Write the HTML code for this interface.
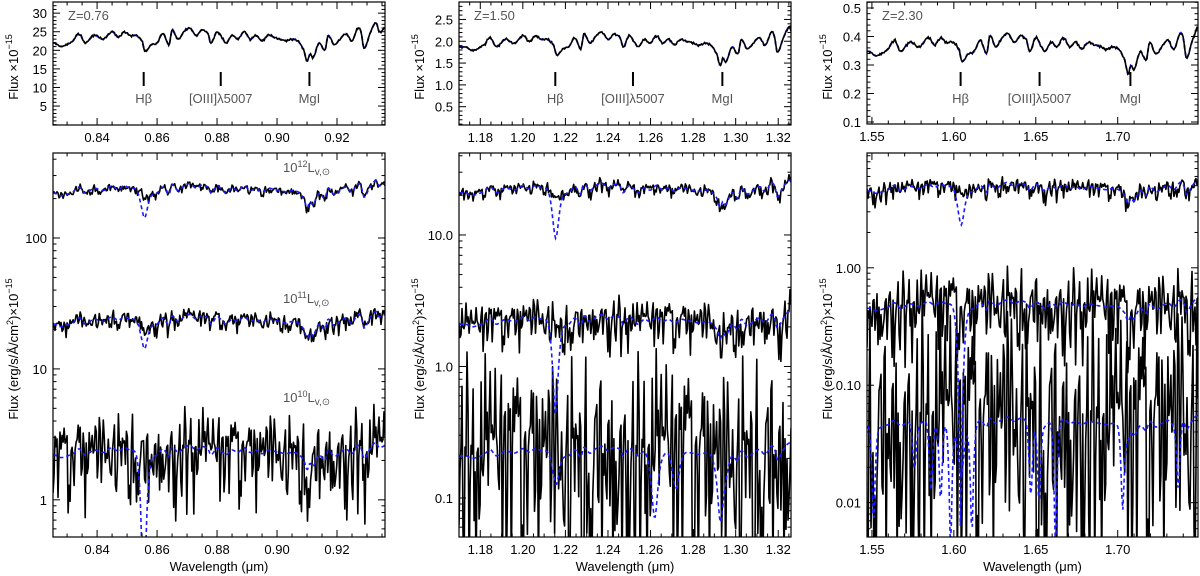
<!DOCTYPE html>
<html><head><meta charset="utf-8"><style>
html,body{margin:0;padding:0;background:#fff;}
svg{display:block;font-family:"Liberation Sans",sans-serif;}
</style></head><body>
<svg id="fig" width="1200" height="576" viewBox="0 0 1200 576"></svg>
<script>
// ---- data ----
const templateWave = [0.826,0.828,0.832,0.834,0.836,0.839,0.842,0.845,0.847,0.849,0.851,0.853,0.855,0.856,0.858,0.860,0.862,0.864,0.865,0.867,0.869,0.871,0.873,0.875,0.877,0.878,0.880,0.882,0.883,0.885,0.887,0.889,0.891,0.893,0.895,0.897,0.899,0.901,0.903,0.905,0.907,0.909,0.910,0.911,0.912,0.914,0.916,0.917,0.919,0.921,0.923,0.925,0.927,0.928,0.929,0.931,0.933,0.934,0.936];
const templateFlux = [22,21,22.5,24.5,22,24,23,25,23.5,25,24,24,22.5,19.8,21.5,22,24.5,21.5,25.5,23,25,26,24,25.5,24.5,22,25,23,22,24,23,25,23,24,22.5,24,23.5,23,22.5,23,22.5,20,17,19,18,22,20,24,21.5,23,24.5,22.5,26,25,20.5,24.5,27.5,25,26];
const templateRedshift = 0.76;
const panelRedshift = [0.76, 1.50, 2.30];
const panelFluxScale = [1, 0.085, 0.0158];
const bottomScale = [1, 1.12, 1.3];
const levelFactor = [10, 1, 0.1];
const levelLabels = ["12","11","10"];
// noise amplitude in decades
const noiseSigma = [[0.012,0.025,0.13],[0.018,0.07,0.33],[0.03,0.13,0.45]];
const hbetaDepth = [[0.3,0.3,0.95],[0.52,0.78,0.35],[0.45,0.99,0.6]];
const extraDipsMid = [[1.262,0.7],[1.272,0.45],[1.293,0.6]];
const extraDipsRight = [[1.551,0.85],[1.576,0.6],[1.586,0.75],[1.592,0.8],[1.598,0.92],[1.611,0.88],[1.647,0.75],[1.652,0.8],[1.662,0.92],[1.703,0.8],[1.737,0.75]];
const lineRest = [0.4861, 0.5007, 0.5175];
const lineNames = ["Hβ", "[OIII]λ5007", "MgI"];
const xTicks = [[0.84,0.86,0.88,0.90,0.92],[1.18,1.20,1.22,1.24,1.26,1.28,1.30,1.32],[1.55,1.60,1.65,1.70]];
const topYTicks = [[5,10,15,20,25,30],[0.5,1.0,1.5,2.0,2.5],[0.1,0.2,0.3,0.4,0.5]];
const botYTicks = [[1,10,100],[0.1,1,10],[0.01,0.1,1]];
const noise = [0.3,-0.8,1.2,-0.2,0.5,-1.5,0.1,0.9,-0.4,-2.1,0.7,0.2,-0.6,1.6,-0.1,0.4,-1.1,0.8,-0.3,2.2,-0.9,0.0,0.6,-1.7,1.0,-0.5,0.3,-0.2,1.4,-1.3,0.2,-0.7,0.9,0.5,-2.4,1.1,-0.1,0.4,-0.8,1.8,-0.6,0.1,-1.0,0.7,-0.3,1.3,-1.9,0.6,0.2,-0.4,0.9,-1.2,1.5,-0.2,0.3,-0.9,2.0,-0.5,0.1,-1.6,0.8,0.4,-0.7,1.2,-2.2,0.5,-0.1,0.9,-0.6,1.7,-1.1,0.2,0.6,-0.4,-1.4,1.0,-0.2,0.3,-2.6,1.4,0.1,-0.8,0.7,-0.3,1.9,-1.0,0.4,-0.5,1.1,-1.8,0.0,0.8,-0.2,1.3,-0.7,0.5,-1.3,2.3,-0.4,0.2,-0.9,0.6,1.0,-2.0,0.3,-0.1,1.6,-0.6,0.7,-1.5,0.4,0.9,-0.3,-1.1,1.2,-0.8,0.1,2.1,-0.5,0.6,-1.7,0.3,-0.2,1.5,-1.2,0.8,-0.4,0.2,-2.3,1.1,0.5,-0.6,1.8,-0.9,0.0,0.7,-1.4,1.3,-0.3,0.4,-1.0,2.4,-0.7,0.2,0.9,-1.9,0.6,-0.1,1.0,-0.5,-1.2,1.7,-0.8,0.3,0.5,-2.5,1.2,-0.2,0.8,-1.6,0.4,1.4,-0.4,0.1,-1.1,0.9,-0.6,2.0,-1.3,0.3];

// ---- layout ----
const layout = [
 {x0:53,x1:385,xr:[0.8253,0.936],top:[2,125,-0.1,33],bot:[153,537,0.52,446],ylx:14,fmtT:0,fmtB:0,xminor:0.005},
 {x0:459,x1:791,xr:[1.170,1.326],top:[2,125,0.08,2.9],bot:[153,537,0.0505,42],ylx:420,fmtT:1,fmtB:1,xminor:0.005},
 {x0:867,x1:1198,xr:[1.547,1.749],top:[2,124,0.093,0.521],bot:[153,537,0.0051,9.5],ylx:828,fmtT:1,fmtB:2,xminor:0.01}
];
const NS="http://www.w3.org/2000/svg";
const svg=document.getElementById('fig');
function mk(tag,attrs,parent){const e=document.createElementNS(NS,tag);for(const k in attrs)e.setAttribute(k,attrs[k]);(parent||svg).appendChild(e);return e;}

const restW = templateWave.map(w=>w/(1+templateRedshift));
function tmpl(r){
  const n=restW.length;
  if(r<=restW[0])return templateFlux[0];
  if(r>=restW[n-1])return templateFlux[n-1];
  let i=0;while(restW[i+1]<r)i++;
  const t=(r-restW[i])/(restW[i+1]-restW[i]);
  const p0=templateFlux[Math.max(i-1,0)],p1=templateFlux[i],p2=templateFlux[i+1],p3=templateFlux[Math.min(i+2,n-1)];
  return 0.5*((2*p1)+(-p0+p2)*t+(2*p0-5*p1+4*p2-p3)*t*t+(-p0+3*p1-3*p2+p3)*t*t*t);
}
function dip(w,w0,d,s){return 1-d*Math.exp(-Math.pow((w-w0)/s,2));}

layout.forEach((L,p)=>{
  const z=panelRedshift[p];
  const g=mk('g',{});
  const sx=w=>L.x0+(w-L.xr[0])/(L.xr[1]-L.xr[0])*(L.x1-L.x0);
  const syT=v=>L.top[1]-(v-L.top[2])/(L.top[3]-L.top[2])*(L.top[1]-L.top[0]);
  const lmin=Math.log10(L.bot[2]),lmax=Math.log10(L.bot[3]);
  const syB=v=>L.bot[1]-(Math.log10(v)-lmin)/(lmax-lmin)*(L.bot[1]-L.bot[0]);
  const defs=mk('defs',{},g);
  ['t','b'].forEach(k=>{
    const cp=mk('clipPath',{id:'c'+p+k},defs);
    const yy=k=='t'?L.top:L.bot;
    mk('rect',{x:L.x0,y:yy[0],width:L.x1-L.x0,height:yy[1]-yy[0]},cp);
  });
  const N=330;
  const waves=[];for(let i=0;i<=N;i++)waves.push(L.xr[0]+(L.xr[1]-L.xr[0])*i/N);
  // ---- top panel ----
  const tg=mk('g',{'clip-path':'url(#c'+p+'t)'},g);
  let dB='',dK='';
  waves.forEach((w,i)=>{
    const m=tmpl(w/(1+z))*panelFluxScale[p];
    const x=sx(w).toFixed(1);
    dB+=(i?'L':'M')+x+','+syT(m).toFixed(1);
    const k=m*(1+0.006*noise[(i*3)%noise.length]);
    dK+=(i?'L':'M')+x+','+syT(k).toFixed(1);
  });
  const tb=mk('path',{d:dB,fill:'none',stroke:'#1a1aff','stroke-width':1.8,'stroke-dasharray':'4,3'},tg);
  
  const tk=mk('path',{d:dK,fill:'none',stroke:'#000','stroke-width':1.6},tg);
  
  lineRest.forEach((r,j)=>{
    const x=sx(r*(1+z));
    const lm=mk('line',{x1:x,x2:x,y1:72,y2:86,stroke:'#000','stroke-width':2},g);
    
    const lt=mk('text',{x:x,y:103,'text-anchor':'middle','font-size':13,fill:'#555'},g);
    lt.textContent=lineNames[j];
    
  });
  const zl=mk('text',{x:L.x0+15,y:20,'font-size':13,fill:'#555'},g);
  zl.textContent='Z='+z.toFixed(2);
  
  // ---- bottom panel ----
  const bg=mk('g',{'clip-path':'url(#c'+p+'b)'},g);
  const blues=[];
  levelFactor.forEach((f,lv)=>{
    let db='',dk='';
    const sig=noiseSigma[p][lv];
    const off=lv*37+p*11;
    waves.forEach((w,i)=>{
      const r=w/(1+z);
      let m=tmpl(r)*panelFluxScale[p]*bottomScale[p]*f;
      let mb=m*dip(r,lineRest[0],hbetaDepth[p][lv],0.0009);
      if(lv==2&&p==1)extraDipsMid.forEach(d=>{mb*=dip(w,d[0],d[1],0.0025);});
      if(lv==2&&p==2)extraDipsRight.forEach(d=>{mb*=dip(w,d[0],d[1],0.0018);});
      const x=sx(w).toFixed(1);
      db+=(i?'L':'M')+x+','+syB(Math.max(mb,L.bot[2]*0.5)).toFixed(1);
      let n=noise[(i*7+off)%noise.length];
      if(n<0)n*=1.6;
      let k=m*Math.pow(10,sig*n);
      if(k<=L.bot[2])k=L.bot[2]*0.5;
      dk+=(i?'L':'M')+x+','+syB(k).toFixed(1);
    });
    const k=mk('path',{d:dk,fill:'none',stroke:'#000','stroke-width':1.6,'stroke-linejoin':'round'},bg);
    
    blues.push([db,lv]);
  });
  blues.forEach(([db,lv])=>{
    const b=mk('path',{d:db,fill:'none',stroke:'#1a1aff','stroke-width':1.6,'stroke-dasharray':'4,3'},bg);
    
  });
  if(p==0){
    const ly=[172,303,402];
    levelLabels.forEach((s,j)=>{
      const t=mk('text',{x:283,y:ly[j],'font-size':13,fill:'#555'},g);
      
      t.innerHTML='10<tspan dy="-5" font-size="9">'+s+'</tspan><tspan dy="5">L</tspan><tspan dy="3" font-size="10">v,⊙</tspan>';
    });
  }
  // ---- axes ----
  [['t',L.top],['b',L.bot]].forEach(([k,yy])=>{
    const ag=mk('g',{},g);
    mk('rect',{x:L.x0,y:yy[0],width:L.x1-L.x0,height:yy[1]-yy[0],fill:'none',stroke:'#000','stroke-width':1.2},ag);
    for(let w=Math.ceil(L.xr[0]/L.xminor)*L.xminor;w<L.xr[1];w+=L.xminor){
      const x=sx(w);
      const major=xTicks[p].some(t=>Math.abs(t-w)<1e-6);
      const len=major?7:3.5;
      mk('line',{x1:x,x2:x,y1:yy[1],y2:yy[1]-len,stroke:'#000','stroke-width':1},ag);
      mk('line',{x1:x,x2:x,y1:yy[0],y2:yy[0]+len,stroke:'#000','stroke-width':1},ag);
    }
    xTicks[p].forEach(t=>{
      const lab=mk('text',{x:sx(t),y:yy[1]+17,'text-anchor':'middle','font-size':13,fill:'#000'},ag);
      lab.textContent=t.toFixed(2);
      
    });
    if(k=='t'){
      const tt=topYTicks[p],step=(tt[1]-tt[0])/5;
      for(let v=tt[0]-step*5;v<L.top[3];v+=step){
        if(v<L.top[2])continue;
        const y=syT(v);const major=tt.some(q=>Math.abs(q-v)<step/10);const len=major?7:3.5;
        mk('line',{x1:L.x0,x2:L.x0+len,y1:y,y2:y,stroke:'#000','stroke-width':1},ag);
        mk('line',{x1:L.x1,x2:L.x1-len,y1:y,y2:y,stroke:'#000','stroke-width':1},ag);
      }
      tt.forEach(v=>{
        const lab=mk('text',{x:L.x0-6,y:syT(v)+5,'text-anchor':'end','font-size':13,fill:'#000'},ag);
        lab.textContent=v.toFixed(L.fmtT);
        
      });
    }else{
      for(let e=Math.floor(lmin);e<=Math.ceil(lmax);e++){
        for(let m=1;m<10;m++){
          const v=m*Math.pow(10,e);if(v<L.bot[2]||v>L.bot[3])continue;
          const y=syB(v);const len=m==1?7:3.5;
          mk('line',{x1:L.x0,x2:L.x0+len,y1:y,y2:y,stroke:'#000','stroke-width':1},ag);
          mk('line',{x1:L.x1,x2:L.x1-len,y1:y,y2:y,stroke:'#000','stroke-width':1},ag);
        }
      }
      botYTicks[p].forEach(v=>{
        const lab=mk('text',{x:L.x0-6,y:syB(v)+5,'text-anchor':'end','font-size':13,fill:'#000'},ag);
        lab.textContent=v.toFixed(L.fmtB);
        
      });
    }
  });
  const yt=mk('text',{x:L.ylx,y:63,'text-anchor':'middle','font-size':13,transform:'rotate(-90 '+(L.ylx+4)+' 63)'},g);
  yt.innerHTML='Flux  ×10<tspan dy="-6" font-size="9">−15</tspan>';
  
  const yb=mk('text',{x:L.ylx,y:345,'text-anchor':'middle','font-size':13,transform:'rotate(-90 '+(L.ylx+4)+' 345)'},g);
  yb.innerHTML='Flux  (erg/s/Å/cm<tspan dy="-5" font-size="9">2</tspan><tspan dy="5">)×10</tspan><tspan dy="-6" font-size="9">−15</tspan>';
  
  const xt=mk('text',{x:(L.x0+L.x1)/2,y:571,'text-anchor':'middle','font-size':13},g);
  xt.textContent='Wavelength (μm)';
  
});
</script>
</body></html>
